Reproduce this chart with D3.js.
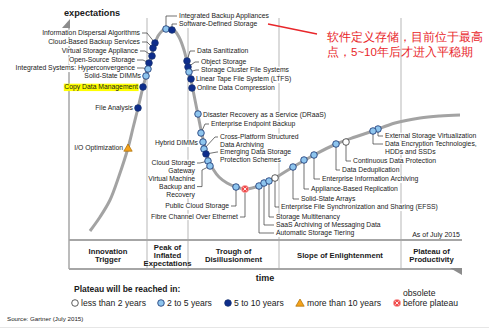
<!DOCTYPE html>
<html><head><meta charset="utf-8">
<script src="https://cdn.jsdelivr.net/npm/d3@7"></script>
<style>body{margin:0;background:#fff}svg{display:block}text{font-family:"Liberation Sans",Arial,sans-serif}</style>
</head><body><svg id="c" width="489" height="329"></svg>
<script>
// ---- data (time units along x, expectation units along y) ----
const curveT = [21,31,41,50,59,64,69,74,77,80,83,86,89,93,97,101,105,110,115,119,122,125,128,131,134,137,140,144,150,158,167,176,190,206,224,245,267,286,304,326,351,371,391];
const curveE = [9,23,40,64,92,112,132,153,164,175,186,196.5,204,209,211.5,212,210,203,190,174,160,145,130,115,101,89,79,71,63,57,53,51,54,62,73,85,96,103,109,117,122,124,125];

const techNames = ["Information Dispersal Algorithms","Cloud-Based Backup Services","Virtual Storage Appliance","Open-Source Storage","Integrated Systems: Hyperconvergence","Solid-State DIMMs","Copy Data Management","File Analysis","I/O Optimization","Integrated Backup Appliances","Software-Defined Storage","Data Sanitization","Object Storage","Storage Cluster File Systems","Linear Tape File System (LTFS)","Online Data Compression","Disaster Recovery as a Service (DRaaS)","Enterprise Endpoint Backup","Hybrid DIMMs","Cross-Platform Structured Data Archiving","Emerging Data Storage Protection Schemes","Cloud Storage Gateway","Virtual Machine Backup and Recovery","Public Cloud Storage","Fibre Channel Over Ethernet","Automatic Storage Tiering","SaaS Archiving of Messaging Data","Storage Multitenancy","Enterprise File Synchronization and Sharing (EFSS)","Solid-State Arrays","Appliance-Based Replication","Enterprise Information Archiving","Data Deduplication","Continuous Data Protection","External Storage Virtualization","Data Encryption Technologies, HDDs and SSDs"];
const techT = [86,84,83,80,79,77,74,69,59,97,103,118,119,120,122,123,129,132,134,135,137,139,141,167,176,190,195,200,206,224,235,245,267,277,309,304];
const techE = [197,192,184,177,171,164,153,132,92,211,210,179,173,168,161,152,126,107,98,91,86,79,74,53,51,54,57,59,62,73,80,85,96,98,111,109];
// 0: less than 2 years, 1: 2 to 5 years, 2: 5 to 10 years, 3: more than 10 years, 4: obsolete before plateau
const techCat = [2,2,2,2,1,1,2,2,3,1,2,2,2,1,2,2,1,1,1,1,2,1,1,1,4,1,1,1,0,1,1,1,1,0,1,1];

const phaseNames = [["Innovation","Trigger"],["Peak of","Inflated","Expectations"],["Trough of","Disillusionment"],["Slope of Enlightenment"],["Plateau of","Productivity"]];
const phaseBounds = [0,78,119,210,332,393];
const legendNames = ["less than 2 years","2 to 5 years","5 to 10 years","more than 10 years","obsolete"];
const noteLines = ["软件定义存储，目前位于最高","点，5~10年后才进入平稳期"];

// ---- label layout (pixels) ----
const L = {
 "Information Dispersal Algorithms":{x:140,y:33,a:"end",lines:["Information Dispersal Algorithms"],ld:"diag",k:5},
 "Cloud-Based Backup Services":{x:140,y:42,a:"end",lines:["Cloud-Based Backup Services"],ld:"diag",k:5},
 "Virtual Storage Appliance":{x:138,y:51,a:"end",lines:["Virtual Storage Appliance"],ld:"diag",k:5},
 "Open-Source Storage":{x:135,y:60,a:"end",lines:["Open-Source Storage"],ld:"diag",k:6},
 "Integrated Systems: Hyperconvergence":{x:135,y:68,a:"end",lines:["Integrated Systems: Hyperconvergence"],ld:"diag",k:6},
 "Solid-State DIMMs":{x:141,y:76,a:"end",lines:["Solid-State DIMMs"],ld:"none"},
 "Copy Data Management":{x:138,y:87,a:"end",lines:["Copy Data Management"],ld:"none",hl:true},
 "File Analysis":{x:133,y:108,a:"end",lines:["File Analysis"],ld:"none"},
 "I/O Optimization":{x:123,y:148,a:"end",lines:["I/O Optimization"],ld:"none"},
 "Integrated Backup Appliances":{x:179,y:16,a:"start",lines:["Integrated Backup Appliances"],ld:"v"},
 "Software-Defined Storage":{x:179,y:24,a:"start",lines:["Software-Defined Storage"],ld:"v"},
 "Data Sanitization":{x:197,y:51,a:"start",lines:["Data Sanitization"],ld:"diag",k:5},
 "Object Storage":{x:201,y:62,a:"start",lines:["Object Storage"],ld:"diag",k:4},
 "Storage Cluster File Systems":{x:201,y:70,a:"start",lines:["Storage Cluster File Systems"],ld:"diag",k:3},
 "Linear Tape File System (LTFS)":{x:196,y:79,a:"start",lines:["Linear Tape File System (LTFS)"],ld:"none"},
 "Online Data Compression":{x:197,y:88,a:"start",lines:["Online Data Compression"],ld:"none"},
 "Disaster Recovery as a Service (DRaaS)":{x:203,y:115,a:"start",lines:["Disaster Recovery as a Service (DRaaS)"],ld:"none"},
 "Enterprise Endpoint Backup":{x:211,y:124,a:"start",lines:["Enterprise Endpoint Backup"],ld:"diag",k:4},
 "Hybrid DIMMs":{x:198,y:143,a:"end",lines:["Hybrid DIMMs"],ld:"none"},
 "Cross-Platform Structured Data Archiving":{x:220,y:137,a:"start",lines:["Cross-Platform Structured","Data Archiving"],ld:"diag",k:3},
 "Emerging Data Storage Protection Schemes":{x:220,y:152,a:"start",lines:["Emerging Data Storage","Protection Schemes"],ld:"diag",k:1},
 "Cloud Storage Gateway":{x:195,y:163,a:"end",lines:["Cloud Storage","Gateway"],ld:"diag",k:3},
 "Virtual Machine Backup and Recovery":{x:195,y:179,a:"end",lines:["Virtual Machine","Backup and","Recovery"],ld:"bracket",k:5,at:1},
 "Public Cloud Storage":{x:229,y:206,a:"end",lines:["Public Cloud Storage"],ld:"v"},
 "Fibre Channel Over Ethernet":{x:238,y:217,a:"end",lines:["Fibre Channel Over Ethernet"],ld:"v"},
 "Automatic Storage Tiering":{x:276,y:233,a:"start",lines:["Automatic Storage Tiering"],ld:"v"},
 "SaaS Archiving of Messaging Data":{x:276,y:225,a:"start",lines:["SaaS Archiving of Messaging Data"],ld:"v"},
 "Storage Multitenancy":{x:276,y:217,a:"start",lines:["Storage Multitenancy"],ld:"v"},
 "Enterprise File Synchronization and Sharing (EFSS)":{x:281,y:207,a:"start",lines:["Enterprise File Synchronization and Sharing (EFSS)"],ld:"v"},
 "Solid-State Arrays":{x:301,y:199,a:"start",lines:["Solid-State Arrays"],ld:"v"},
 "Appliance-Based Replication":{x:311,y:189,a:"start",lines:["Appliance-Based Replication"],ld:"v"},
 "Enterprise Information Archiving":{x:322,y:179,a:"start",lines:["Enterprise Information Archiving"],ld:"v"},
 "Data Deduplication":{x:342,y:170,a:"start",lines:["Data Deduplication"],ld:"v"},
 "Continuous Data Protection":{x:353,y:161,a:"start",lines:["Continuous Data Protection"],ld:"v"},
 "External Storage Virtualization":{x:385,y:136,a:"start",lines:["External Storage Virtualization"],ld:"v"},
 "Data Encryption Technologies, HDDs and SSDs":{x:385,y:144,a:"start",lines:["Data Encryption Technologies,","HDDs and SSDs"],ld:"v"}
};

const svg = d3.select("#c");
const x = d3.scaleLinear().domain([0,393]).range([69,462]);
const y = d3.scaleLinear().domain([0,222]).range([240,18]);
const FS = 6.8, LH = 7.6;
const ink = "#1a1a1a";
const gridC = "#cfcfcf", axisC = "#a6a6a6";
const dark = "#0e2d8c", light = "#8ec5ee", strokeC = "#14306e";

// dividers
const dv = svg.append("g");
phaseBounds.slice(1,-1).forEach(b=>{
  dv.append("line").attr("x1",x(b)).attr("x2",x(b)).attr("y1",18).attr("y2",269).attr("stroke",gridC).attr("stroke-width",1.5);
});
// axes
dv.append("line").attr("x1",x(0)).attr("x2",x(0)).attr("y1",27).attr("y2",269).attr("stroke",axisC).attr("stroke-width",1.5);
dv.append("path").attr("d","M62,28 L70,28 L70,19 Z").attr("fill","#8c8c8c");
dv.append("line").attr("x1",x(0)).attr("x2",x(393)).attr("y1",240).attr("y2",240).attr("stroke",axisC).attr("stroke-width",2);
dv.append("line").attr("x1",x(0)).attr("x2",x(393)).attr("y1",269).attr("y2",269).attr("stroke",axisC).attr("stroke-width",2);
dv.append("path").attr("d","M450,268 L462,268 L462,275 Z").attr("fill","#8c8c8c");

svg.append("text").attr("x",64).attr("y",15.5).attr("font-size",9.2).attr("font-weight","bold").attr("fill",ink).text("expectations");
svg.append("text").attr("x",265).attr("y",280.5).attr("text-anchor","middle").attr("font-size",9).attr("font-weight","bold").attr("fill",ink).text("time");
svg.append("text").attr("x",460).attr("y",236.5).attr("text-anchor","end").attr("font-size",7).attr("fill",ink).text("As of July 2015");

// phases
phaseNames.forEach((ln,i)=>{
  const cx = (x(phaseBounds[i])+x(phaseBounds[i+1]))/2;
  const y0 = 255 - (ln.length-1)*8/2;
  const t = svg.append("text").attr("text-anchor","middle").attr("font-size",7.7).attr("font-weight","bold").attr("fill",ink);
  ln.forEach((s,j)=>t.append("tspan").attr("x",cx).attr("y",y0+j*8).attr("dy","0.35em").text(s));
});

// curve
const pts = curveT.map((t,i)=>[x(t),y(curveE[i])]);
svg.append("path").attr("d",d3.line().curve(d3.curveCatmullRom.alpha(0.5))(pts)).attr("fill","none").attr("stroke","#a3a3a3").attr("stroke-width",3);

// labels + leaders
const lg = svg.append("g"), tg = svg.append("g");
techNames.forEach((n,i)=>{
  const o = L[n]; const px = x(techT[i]), py = y(techE[i]);
  const at = o.at||0; const ly = o.y + at*LH;
  const s = o.a==="end" ? 1 : -1; const ex = o.x + s*2;
  let p = null;
  if(o.ld==="v") p = [[px,py],[px,ly],[ex,ly]];
  else if(o.ld==="diag") p = [[px,py],[ex+s*o.k,ly],[ex,ly]];
  else if(o.ld==="bracket") p = [[px,py],[ex+s*o.k,py+4],[ex+s*o.k,ly],[ex,ly]];
  if(p) lg.append("path").attr("d",d3.line()(p)).attr("fill","none").attr("stroke","#333").attr("stroke-width",0.7);
  const t = tg.append("text").attr("text-anchor",o.a).attr("font-size",FS).attr("fill",ink);
  o.lines.forEach((s2,j)=>t.append("tspan").attr("x",o.x).attr("y",o.y+j*LH).attr("dy","0.35em").text(s2));
  const bb = t.node().getBBox();
  tg.insert("rect",()=>t.node()).attr("x",bb.x-0.5).attr("y",bb.y+0.3).attr("width",bb.width+1).attr("height",bb.height-0.6)
    .attr("fill",o.hl?"#ffff00":"#fff");
});

// markers
function marker(g,cat,px,py){
  if(cat===3){
    g.append("path").attr("d",`M${px-4.2},${py+3.2} L${px+4.2},${py+3.2} L${px},${py-4} Z`).attr("fill","#f5a31c").attr("stroke","#a86a00").attr("stroke-width",0.7);
  } else if(cat===4){
    g.append("circle").attr("cx",px).attr("cy",py).attr("r",3.6).attr("fill","#f04848").attr("stroke","#f7a5a5").attr("stroke-width",0.8);
    g.append("path").attr("d",`M${px-1.6},${py-1.6}L${px+1.6},${py+1.6}M${px-1.6},${py+1.6}L${px+1.6},${py-1.6}`).attr("stroke","#fff").attr("stroke-width",0.9);
  } else {
    g.append("circle").attr("cx",px).attr("cy",py).attr("r",3.3)
      .attr("fill",cat===0?"#fff":cat===1?light:dark).attr("stroke",cat===0?"#333":strokeC).attr("stroke-width",0.8);
  }
}
const mg = svg.append("g");
techNames.forEach((n,i)=>marker(mg,techCat[i],x(techT[i]),y(techE[i])));

// legend
svg.append("text").attr("x",74).attr("y",292).attr("font-size",8.5).attr("font-weight","bold").attr("fill",ink).text("Plateau will be reached in:");
const legX = [75,161,228,300,397];
const legTX = [81,167,234,307,403];
legendNames.forEach((nm,i)=>{
  marker(svg,i,legX[i],303);
  if(i<4) svg.append("text").attr("x",legTX[i]).attr("y",303).attr("dy","0.35em").attr("font-size",8.6).attr("fill",ink).text(nm);
});
svg.append("text").attr("x",403).attr("y",293).attr("dy","0.35em").attr("font-size",8.6).attr("fill",ink).text("obsolete");
svg.append("text").attr("x",403).attr("y",303).attr("dy","0.35em").attr("font-size",8.6).attr("fill",ink).text("before plateau");

svg.append("text").attr("x",7).attr("y",321).attr("font-size",6.2).attr("fill",ink).text("Source: Gartner (July 2015)");
svg.append("line").attr("x1",0).attr("x2",489).attr("y1",327.5).attr("y2",327.5).attr("stroke","#e6e6e6").attr("stroke-width",1);

// red annotation
svg.append("line").attr("x1",268).attr("y1",24).attr("x2",317).attr("y2",34).attr("stroke","#e8262a").attr("stroke-width",1.3);
noteLines.forEach((s,j)=>svg.append("text").attr("x",327).attr("y",37+j*14.5).attr("dy","0.35em")
  .attr("font-family","'Noto Sans CJK SC',sans-serif").attr("font-size",11.5).attr("fill","#e8262a").text(s));
</script></body></html>
